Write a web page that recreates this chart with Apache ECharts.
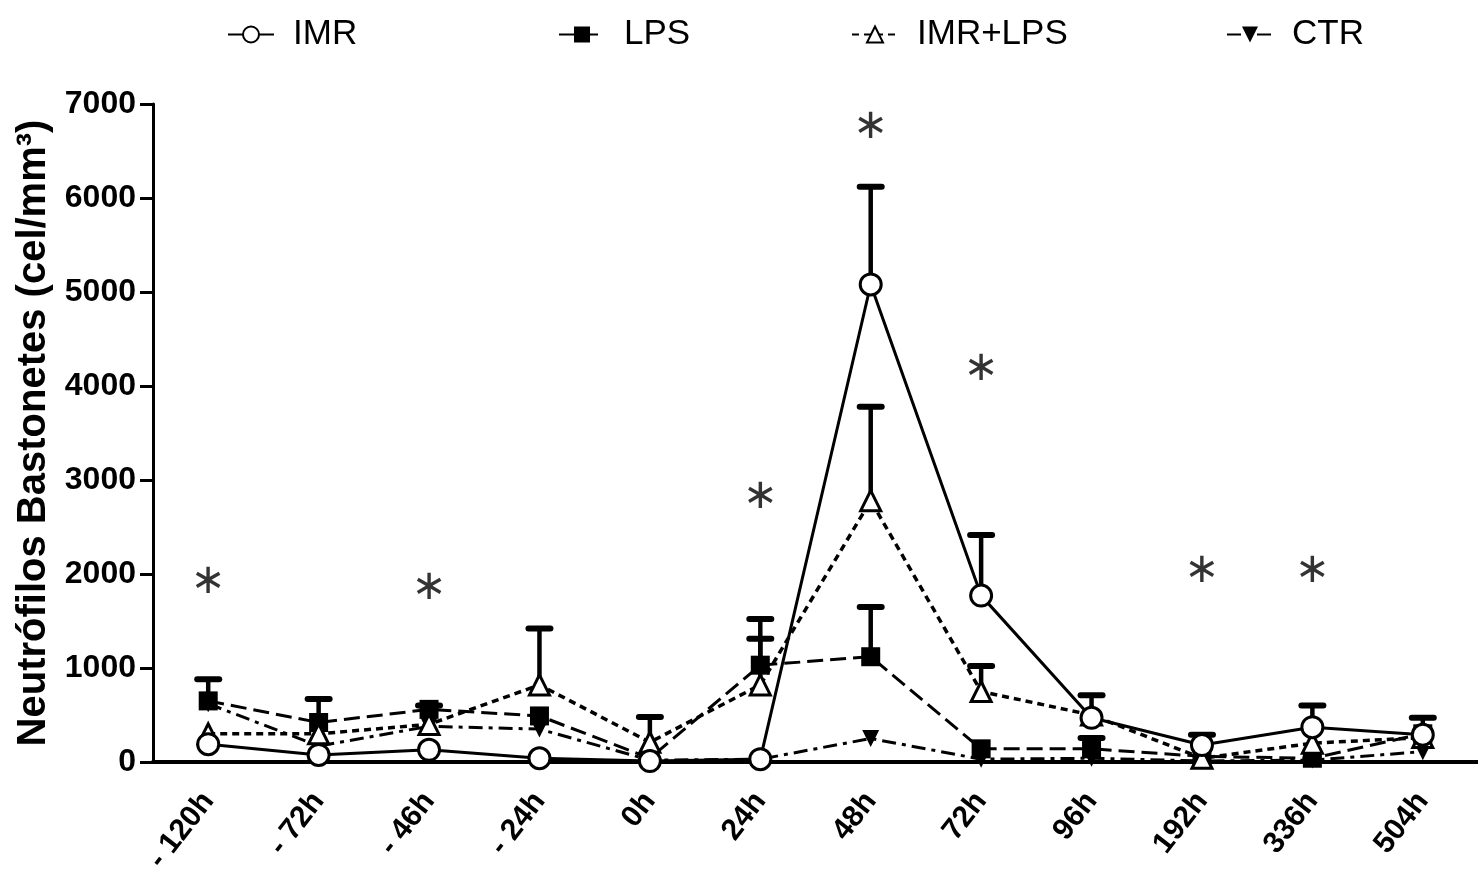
<!DOCTYPE html>
<html>
<head>
<meta charset="utf-8">
<script src="https://cdn.jsdelivr.net/npm/echarts@6/dist/echarts.min.js"></script>
<style>
html,body{margin:0;padding:0;background:#fff;}
#chart{width:1478px;height:884px;}
</style>
</head>
<body>
<div id="chart"></div>
<script>
// ---- data ----
const categories = ['- 120h','- 72h','- 46h','- 24h','0h','24h','48h','72h','96h','192h','336h','504h'];
const imr      = [190, 75, 130, 40, 10, 30, 5080, 1770, 470, 180, 370, 290];
const imrErr   = [null, null, null, null, null, null, 6120, 2415, 710, 290, 600, null];
const lps      = [650, 420, 560, 490, 40, 1030, 1120, 140, 140, 60, 40, 300];
const lpsErr   = [880, 670, 600, null, null, 1520, 1650, null, 255, null, null, 470];
const imrLps   = [300, 300, 400, 820, 210, 820, 2780, 750, 500, 40, 200, 260];
const imrLpsErr= [null, null, null, 1420, 480, 1310, 3780, 1020, null, null, null, null];
const ctr      = [620, 170, 380, 350, 20, 30, 250, 30, 40, 10, 20, 110];
const sigCats  = ['- 120h','- 46h','24h','48h','72h','192h','336h'];
const sigY     = [1910, 1850, 2820, 6750, 4180, 2030, 2030];
const yTicks   = [0, 1000, 2000, 3000, 4000, 5000, 6000, 7000];

const FONT = '"Liberation Sans", Arial, sans-serif';

function errData(mean, upper) {
  const out = [];
  upper.forEach((u, i) => { if (u != null) out.push([i, mean[i], u]); });
  return out;
}
function renderErr(params, api) {
  const x = api.value(0);
  const p0 = api.coord([x, api.value(1)]);
  const p1 = api.coord([x, api.value(2)]);
  return {
    type: 'group',
    children: [
      {type: 'line', shape: {x1: p0[0], y1: p0[1], x2: p1[0], y2: p1[1]}, style: {stroke: '#000', lineWidth: 4.5}},
      {type: 'line', shape: {x1: p1[0] - 11, y1: p1[1], x2: p1[0] + 11, y2: p1[1]}, style: {stroke: '#000', lineWidth: 6, lineCap: 'round'}}
    ]
  };
}
function errSeries(mean, upper) {
  return {type: 'custom', renderItem: renderErr, data: errData(mean, upper), z: 1, silent: true};
}

const legendBase = {
  top: 12, itemWidth: 46, itemHeight: 20,
  textStyle: {fontFamily: FONT, fontSize: 35, color: '#000', padding: [0, 0, 0, 14]}
};

const chart = echarts.init(document.getElementById('chart'), null, {renderer: 'canvas'});
chart.setOption({
  backgroundColor: '#fff',
  animation: false,
  legend: [
    Object.assign({}, legendBase, {data: ['IMR'], left: 222}),
    Object.assign({}, legendBase, {data: ['LPS'], left: 553}),
    Object.assign({}, legendBase, {data: ['IMR+LPS'], left: 846}),
    Object.assign({}, legendBase, {data: ['CTR'], left: 1221})
  ],
  grid: {left: 153, top: 104, width: 1334, height: 658},
  xAxis: {
    type: 'category', data: categories, boundaryGap: true,
    axisLine: {lineStyle: {color: '#000', width: 4}},
    axisTick: {alignWithLabel: true, length: 14, lineStyle: {color: '#000', width: 3}},
    axisLabel: {rotate: 52, margin: 34, color: '#000', fontFamily: FONT, fontWeight: 'bold', fontSize: 30, interval: 0}
  },
  yAxis: {
    type: 'value', min: 0, max: 7000, interval: 1000,
    name: 'Neutrófilos Bastonetes (cel/mm³)', nameLocation: 'middle', nameRotate: 90, nameGap: 90,
    nameTextStyle: {fontFamily: FONT, fontWeight: 'bold', fontSize: 40, color: '#000'},
    axisLine: {show: true, lineStyle: {color: '#000', width: 3}},
    axisTick: {show: true, length: 13, lineStyle: {color: '#000', width: 3}},
    axisLabel: {margin: 17, color: '#000', fontFamily: FONT, fontWeight: 'bold', fontSize: 32,
      formatter: v => yTicks.includes(v) ? String(v) : ''},
    splitLine: {show: false}
  },
  series: [
    errSeries(imr, imrErr),
    errSeries(lps, lpsErr),
    errSeries(imrLps, imrLpsErr),
    {
      name: 'CTR', type: 'line', data: ctr, z: 2,
      symbol: 'triangle', symbolRotate: 180, symbolSize: 17,
      itemStyle: {color: '#000'},
      lineStyle: {color: '#000', width: 3, type: [14, 6, 4, 6]}
    },
    {
      name: 'LPS', type: 'line', data: lps, z: 3,
      symbol: 'rect', symbolSize: 19,
      itemStyle: {color: '#000'},
      lineStyle: {color: '#000', width: 3, type: [16, 7]}
    },
    {
      name: 'IMR+LPS', type: 'line', data: imrLps, z: 4,
      symbol: 'triangle', symbolSize: 20,
      itemStyle: {color: '#fff', borderColor: '#000', borderWidth: 3},
      lineStyle: {color: '#000', width: 3.5, type: [7, 5]}
    },
    {
      name: 'IMR', type: 'line', data: imr, z: 5,
      symbol: 'circle', symbolSize: 21,
      itemStyle: {color: '#fff', borderColor: '#000', borderWidth: 3},
      lineStyle: {color: '#000', width: 3, type: 'solid'}
    },
    {
      type: 'scatter', z: 6, silent: true,
      data: sigCats.map((c, i) => [c, sigY[i]]),
      symbolSize: 1, itemStyle: {color: 'rgba(0,0,0,0)'},
      label: {show: true, position: 'inside', formatter: '∗', color: '#000',
        fontFamily: '"DejaVu Sans", sans-serif', fontSize: 42}
    }
  ]
});
</script>
</body>
</html>
